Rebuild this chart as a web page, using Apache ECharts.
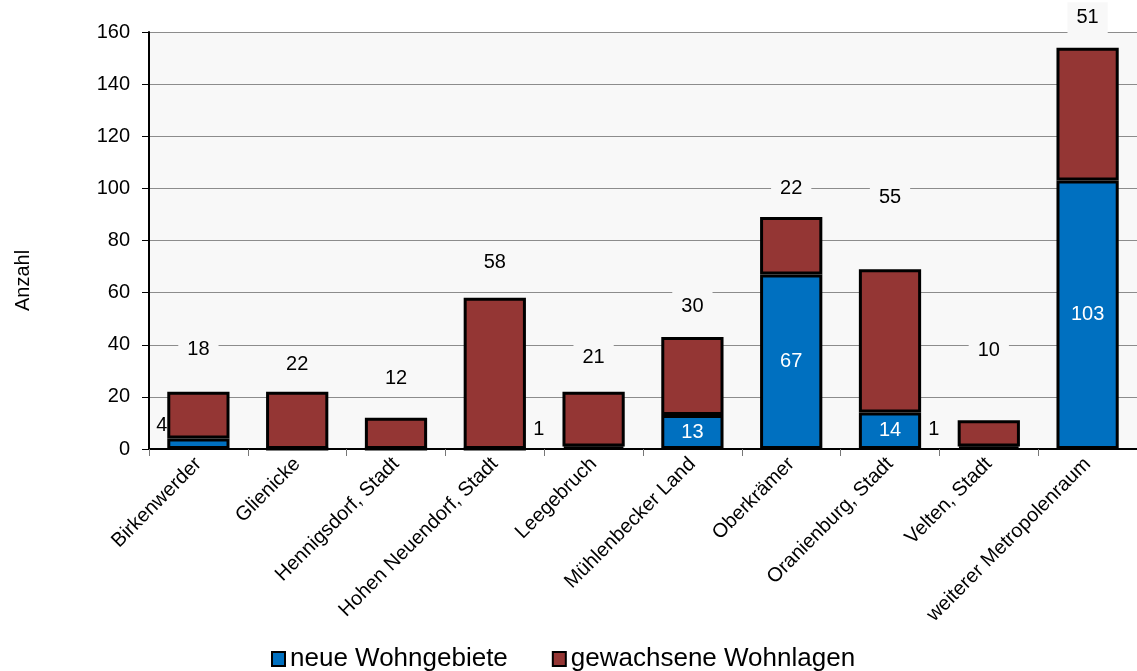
<!DOCTYPE html>
<html>
<head>
<meta charset="utf-8">
<script src="https://cdn.jsdelivr.net/npm/echarts@6/dist/echarts.min.js"></script>
<style>
  html, body { margin: 0; padding: 0; background: #fff; }
  #chart { width: 1137px; height: 671px; }
</style>
</head>
<body>
<div id="chart"></div>
<script>
const categories = ['Birkenwerder', 'Glienicke', 'Hennigsdorf, Stadt', 'Hohen Neuendorf, Stadt', 'Leegebruch',
  'Mühlenbecker Land', 'Oberkrämer', 'Oranienburg, Stadt', 'Velten, Stadt', 'weiterer Metropolenraum'];
const neueWohngebiete = [4, 0, 0, 0, 1, 13, 67, 14, 1, 103];
const gewachseneWohnlagen = [18, 22, 12, 58, 21, 30, 22, 55, 10, 51];

// label placement as in the original (Excel put them a bit everywhere)
const redLabelGap = [27, 11.5, 23.5, 20, 19, 14.5, 13.5, 56.5, 54.5, 14.5];
const blueOutside = { 0: 0, 4: 18, 8: 18 };

const font = 'Liberation Sans, Arial, sans-serif';

const blueData = neueWohngebiete.map((v, i) => {
  const item = { value: v };
  if (i in blueOutside) {
    item.label = { position: 'left', color: '#000', distance: blueOutside[i], offset: [0, -18] };
  }
  return item;
});

const redData = gewachseneWohnlagen.map((v, i) => ({
  value: v,
  label: { distance: redLabelGap[i] }
}));

const chart = echarts.init(document.getElementById('chart'));
chart.setOption({
  animation: false,
  textStyle: { fontFamily: font },
  grid: {
    left: 149, right: 0, top: 32, bottom: 222,
    show: true, backgroundColor: '#f8f8f8', borderWidth: 0
  },
  legend: {
    top: 641,
    left: 266,
    itemWidth: 13,
    itemHeight: 14,
    itemGap: 44,
    icon: 'rect',
    textStyle: { fontSize: 26, color: '#000', fontFamily: font },
    data: [
      { name: 'neue Wohngebiete', itemStyle: { borderColor: '#000', borderWidth: 2 } },
      { name: 'gewachsene Wohnlagen', itemStyle: { borderColor: '#000', borderWidth: 2 } }
    ]
  },
  xAxis: {
    type: 'category',
    data: categories,
    axisLine: { lineStyle: { color: '#000', width: 2 } },
    axisTick: { show: true, length: 7, lineStyle: { color: '#777' } },
    axisLabel: { rotate: 45, interval: 0, fontSize: 20, color: '#000', margin: 12, fontFamily: font }
  },
  yAxis: {
    type: 'value',
    min: 0, max: 160, interval: 20,
    name: 'Anzahl',
    nameLocation: 'middle',
    nameGap: 116,
    nameTextStyle: { fontSize: 20, color: '#000', padding: [0, 80, 0, 0], fontFamily: font },
    axisLine: { show: true, lineStyle: { color: '#000', width: 2 } },
    axisTick: { show: true, length: 7, lineStyle: { color: '#000' } },
    axisLabel: { fontSize: 20, color: '#000', margin: 19, fontFamily: font },
    splitLine: { lineStyle: { color: '#8c8c8c', width: 1 } }
  },
  series: [
    {
      name: 'neue Wohngebiete',
      type: 'bar',
      stack: 'total',
      barCategoryGap: '37%',
      itemStyle: { color: '#0070c0', borderColor: '#000', borderWidth: 3 },
      label: {
        show: true, position: 'inside', color: '#fff', fontSize: 20, fontFamily: font,
        formatter: p => (p.value ? String(p.value) : '')
      },
      data: blueData
    },
    {
      name: 'gewachsene Wohnlagen',
      type: 'bar',
      stack: 'total',
      itemStyle: { color: '#943634', borderColor: '#000', borderWidth: 3 },
      label: {
        show: true, position: 'top', color: '#000', fontSize: 20, fontFamily: font,
        lineHeight: 23, backgroundColor: '#f8f8f8', padding: [4, 9]
      },
      data: redData
    }
  ]
});
</script>
</body>
</html>
